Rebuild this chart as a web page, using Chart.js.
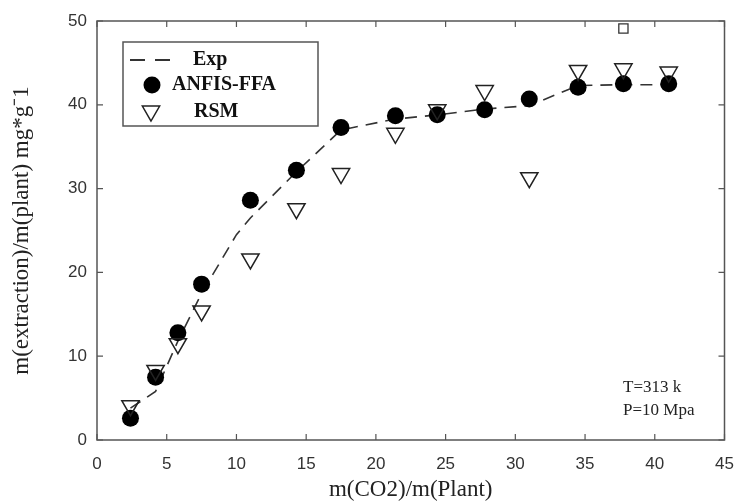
<!DOCTYPE html>
<html>
<head>
<meta charset="utf-8">
<script src="https://cdn.jsdelivr.net/npm/chart.js@4.4.1/dist/chart.umd.min.js"></script>
<style>
  html, body { margin: 0; padding: 0; background: #fff; }
  #wrap { width: 736px; height: 504px; }
</style>
</head>
<body>
<div id="wrap"><canvas id="chart" width="736" height="504"></canvas></div>
<script>
// values
const xPoints = [2.4, 4.2, 5.8, 7.5, 11, 14.3, 17.5, 21.4, 24.4, 27.8, 31, 34.5, 37.75, 41];
const anfisValues = [2.6, 7.5, 12.8, 18.6, 28.6, 32.2, 37.3, 38.7, 38.8, 39.4, 40.7, 42.1, 42.5, 42.5];
const rsmValues = [4.1, 8.3, 11.5, 15.4, 21.6, 27.6, 31.8, 36.6, 39.4, 41.7, 31.3, 44.1, 44.3, 43.9];
const expX = [2.4, 4.2, 5.8, 7.5, 10, 11, 14.3, 17.5, 21.4, 24.4, 27.8, 31, 34.5, 37.75, 41];
const expValues = [3.8, 5.8, 11.8, 17.5, 24.5, 26.5, 32, 37, 38.3, 38.8, 39.5, 39.9, 42.3, 42.4, 42.4];
const strayX = [37.75];
const strayValues = [49.1];
const xTicks = [0, 5, 10, 15, 20, 25, 30, 35, 40, 45];
const yTicks = [0, 10, 20, 30, 40, 50];
const noteLines = ["T=313 k", "P=10 Mpa"];

function pairs(xs, ys) {
  return xs.map((x, i) => ({ x: x, y: ys[i] }));
}

// frame + inward ticks like the matlab figure
const frameTicks = {
  id: "frameTicks",
  afterDraw(chart) {
    let ctx = chart.ctx;
    let a = chart.chartArea;
    let xs = chart.scales.x;
    let ys = chart.scales.y;
    ctx.save();
    ctx.strokeStyle = "#555";
    ctx.lineWidth = 1.5;
    ctx.strokeRect(a.left, a.top, a.right - a.left, a.bottom - a.top);
    ctx.lineWidth = 1.2;
    ctx.beginPath();
    xTicks.forEach((v) => {
      let px = xs.getPixelForValue(v);
      ctx.moveTo(px, a.bottom);
      ctx.lineTo(px, a.bottom - 6);
      ctx.moveTo(px, a.top);
      ctx.lineTo(px, a.top + 6);
    });
    yTicks.forEach((v) => {
      let py = ys.getPixelForValue(v);
      ctx.moveTo(a.left, py);
      ctx.lineTo(a.left + 6, py);
      ctx.moveTo(a.right, py);
      ctx.lineTo(a.right - 6, py);
    });
    ctx.stroke();

    // note in lower right
    ctx.fillStyle = "#222";
    ctx.font = "17px 'Liberation Serif', serif";
    ctx.textBaseline = "middle";
    ctx.fillText(noteLines[0], a.left + 526, a.top + 367);
    ctx.fillText(noteLines[1], a.left + 526, a.top + 390);
    ctx.restore();
  },
};

// boxed legend in the upper left
const boxLegend = {
  id: "boxLegend",
  afterDraw(chart) {
    let ctx = chart.ctx;
    let a = chart.chartArea;
    let bx = a.left + 26;
    let by = a.top + 21;
    let ds = chart.data.datasets;
    ctx.save();
    ctx.fillStyle = "#fff";
    ctx.fillRect(bx, by, 195, 84);
    ctx.strokeStyle = "#555";
    ctx.lineWidth = 1.5;
    ctx.strokeRect(bx, by, 195, 84);

    ctx.font = "bold 20px 'Liberation Serif', serif";
    ctx.textBaseline = "middle";
    ctx.fillStyle = "#111";

    // Exp
    ctx.strokeStyle = ds[0].borderColor;
    ctx.lineWidth = 2;
    ctx.setLineDash([15, 10]);
    ctx.beginPath();
    ctx.moveTo(bx + 7, by + 18);
    ctx.lineTo(bx + 47, by + 18);
    ctx.stroke();
    ctx.setLineDash([]);
    ctx.fillText(ds[0].label, bx + 70, by + 18);

    // ANFIS-FFA
    ctx.fillStyle = ds[1].backgroundColor;
    ctx.beginPath();
    ctx.arc(bx + 29, by + 43, ds[1].pointRadius, 0, Math.PI * 2);
    ctx.fill();
    ctx.fillStyle = "#111";
    ctx.fillText(ds[1].label, bx + 49, by + 43);

    // RSM
    ctx.fillStyle = ds[2].backgroundColor;
    ctx.strokeStyle = ds[2].borderColor;
    ctx.lineWidth = ds[2].pointBorderWidth;
    Chart.helpers.drawPoint(ctx, {
      pointStyle: ds[2].pointStyle,
      radius: ds[2].pointRadius,
      rotation: ds[2].pointRotation,
      borderWidth: ds[2].pointBorderWidth,
    }, bx + 28, by + 69);
    ctx.fillStyle = "#111";
    ctx.fillText(ds[2].label, bx + 71, by + 70);
    ctx.restore();
  },
};

new Chart(document.getElementById("chart"), {
  type: "scatter",
  data: {
    datasets: [
      {
        label: "Exp",
        type: "line",
        data: pairs(expX, expValues),
        borderColor: "#333",
        borderWidth: 1.6,
        borderDash: [12, 8],
        pointRadius: 0,
        fill: false,
        tension: 0,
        order: 3,
      },
      {
        label: "ANFIS-FFA",
        data: pairs(xPoints, anfisValues),
        pointStyle: "circle",
        pointRadius: 8.5,
        pointBorderWidth: 0,
        backgroundColor: "#000",
        borderColor: "#000",
        order: 2,
      },
      {
        label: "RSM",
        data: pairs(xPoints, rsmValues),
        pointStyle: "triangle",
        pointRotation: 180,
        pointRadius: 10,
        pointBorderWidth: 1.5,
        backgroundColor: "rgba(255,255,255,0)",
        borderColor: "#222",
        order: 1,
      },
      {
        label: "stray",
        data: pairs(strayX, strayValues),
        pointStyle: "rect",
        pointRadius: 6.5,
        pointBorderWidth: 1.3,
        backgroundColor: "#fff",
        borderColor: "#333",
        order: 0,
      },
    ],
  },
  options: {
    responsive: false,
    animation: false,
    layout: { padding: { top: 21, right: 11, left: 0, bottom: 0 } },
    plugins: {
      legend: { display: false },
      tooltip: { enabled: false },
    },
    scales: {
      x: {
        type: "linear",
        min: 0,
        max: 45,
        afterBuildTicks: (s) => { s.ticks = xTicks.map((v) => ({ value: v })); },
        afterFit: (s) => {
          s.height = 64;
          s.paddingLeft = 0;
          s.paddingRight = 0;
        },
        grid: { display: false, drawTicks: false },
        border: { display: false },
        ticks: {
          padding: 14,
          color: "#333",
          font: { family: "'Liberation Sans', Arial, sans-serif", size: 17 },
        },
        title: {
          display: true,
          text: "m(CO2)/m(Plant)",
          color: "#222",
          padding: { top: 0, bottom: 0 },
          font: { family: "'Liberation Serif', serif", size: 23 },
        },
      },
      y: {
        type: "linear",
        min: 0,
        max: 50,
        afterBuildTicks: (s) => { s.ticks = yTicks.map((v) => ({ value: v })); },
        afterFit: (s) => {
          s.width = 97;
          s.paddingTop = 0;
          s.paddingBottom = 0;
        },
        grid: { display: false, drawTicks: false },
        border: { display: false },
        ticks: {
          padding: 10,
          color: "#333",
          font: { family: "'Liberation Sans', Arial, sans-serif", size: 17 },
        },
        title: {
          display: true,
          text: "m(extraction)/m(plant) mg*g\u207B1",
          color: "#222",
          padding: { top: 8, bottom: 0 },
          font: { family: "'Liberation Serif', serif", size: 23 },
        },
      },
    },
  },
  plugins: [frameTicks, boxLegend],
});
</script>
</body>
</html>
